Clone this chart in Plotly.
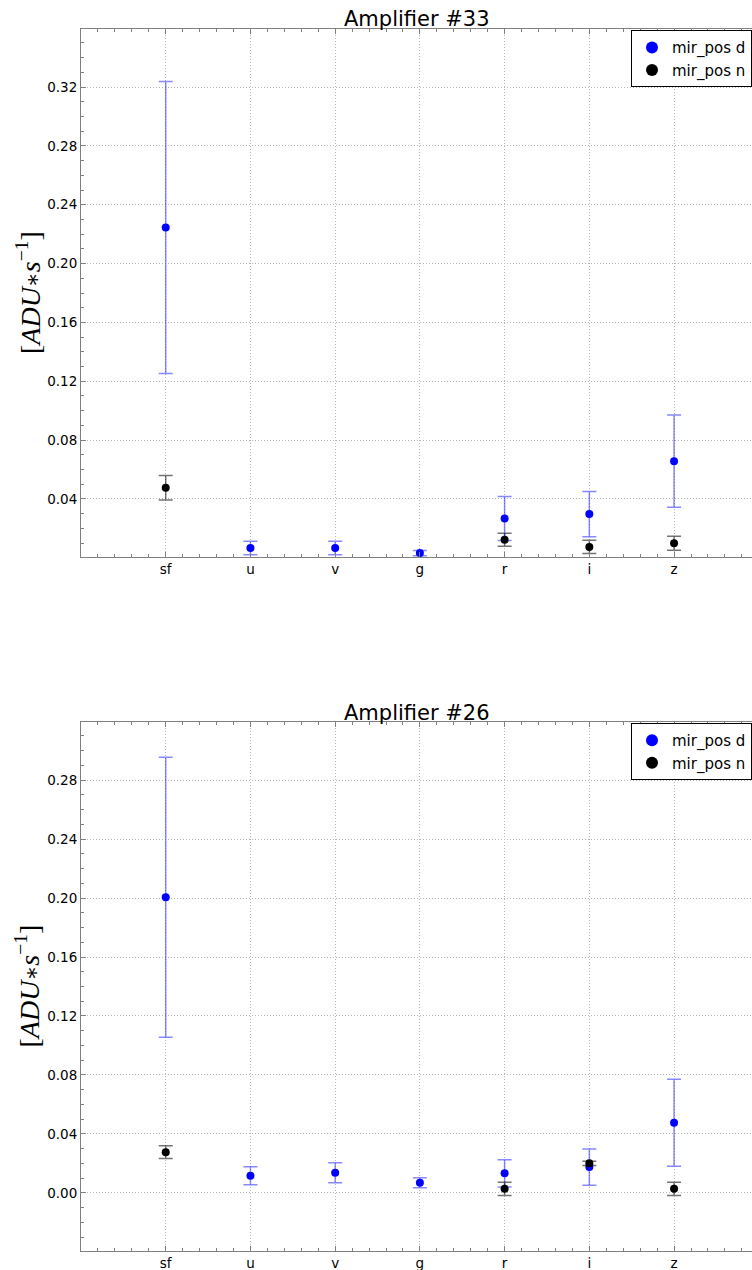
import plotly.graph_objects as go
from plotly.subplots import make_subplots

# ── data ──────────────────────────────────────────────
bands = ["sf", "u", "v", "g", "r", "i", "z"]
x_pos = list(range(len(bands)))

# Amplifier #33
amp33_d = [0.2245, 0.0067, 0.0067, 0.0032, 0.0267, 0.0297, 0.0657]
amp33_d_err = [0.0993, 0.0046, 0.0046, 0.0018, 0.0150, 0.0154, 0.0313]
amp33_n = [0.0476, None, None, None, 0.0122, 0.0074, 0.0099]
amp33_n_err = [0.0083, None, None, None, 0.0044, 0.0045, 0.0048]

# Amplifier #26
amp26_d = [0.2006, 0.0115, 0.0136, 0.0068, 0.0132, 0.0175, 0.0475]
amp26_d_err = [0.0950, 0.0061, 0.0068, 0.0034, 0.0093, 0.0123, 0.0295]
amp26_n = [0.0276, None, None, None, 0.0027, 0.0200, 0.0027]
amp26_n_err = [0.0044, None, None, None, 0.0045, 0.0014, 0.0045]

titles = ["Amplifier #33", "Amplifier #26"]
y_ranges = [[0.0005, 0.3595], [-0.0395, 0.3195]]

# ── figure ────────────────────────────────────────────
fig = make_subplots(rows=2, cols=1, vertical_spacing=0.1351,
                    subplot_titles=titles)
fig.update_layout(
    yaxis_domain=[0.5679, 1.0],
    yaxis2_domain=[0.0, 0.4329],
)

panels = [
    (amp33_d, amp33_d_err, amp33_n, amp33_n_err, "legend"),
    (amp26_d, amp26_d_err, amp26_n, amp26_n_err, "legend2"),
]
for row, (d, d_err, n, n_err, leg) in enumerate(panels, start=1):
    fig.add_trace(go.Scatter(
        x=x_pos, y=d, mode="markers", name="mir_pos d", legend=leg,
        marker=dict(color="#0000ff", size=8),
        error_y=dict(type="data", array=d_err, visible=True,
                     color="rgba(40,40,255,0.55)", thickness=1.5, width=7),
    ), row=row, col=1)
    fig.add_trace(go.Scatter(
        x=x_pos, y=n, mode="markers", name="mir_pos n", legend=leg,
        marker=dict(color="#000000", size=8),
        error_y=dict(type="data", array=n_err, visible=True,
                     color="rgba(0,0,0,0.55)", thickness=1.5, width=7),
    ), row=row, col=1)

tick_font = dict(family="DejaVu Sans", size=13.5, color="black")
axis_style = dict(
    showline=True, linecolor="#808080", linewidth=1,
    showgrid=True, gridcolor="#b8b8b8", griddash="1px,2px", gridwidth=1,
    ticks="inside", ticklen=5, tickcolor="#808080",
    tickfont=tick_font, zeroline=False, automargin=False,
)

for row, yr in enumerate(y_ranges, start=1):
    fig.update_xaxes(
        range=[-1, 6.92], tickvals=x_pos, ticktext=bands, mirror="allticks",
        minor=dict(dtick=0.2, tick0=0, ticks="inside", ticklen=3,
                   tickcolor="#808080", showgrid=False),
        row=row, col=1, **axis_style,
    )
    fig.update_yaxes(
        range=yr, dtick=0.04, tick0=0, tickformat=".2f",
        minor=dict(dtick=0.01, tick0=0, ticks="inside", ticklen=3,
                   tickcolor="#808080", showgrid=False),
        row=row, col=1, **axis_style,
    )

# y labels as annotations (no MathJax offline)
ylabel = "[<i>ADU</i><span style='font-family:DejaVu Serif;font-size:22px'>∗</span><i>s</i><sup>−1</sup>]"
for yc in [(0.5679 + 1.0) / 2, 0.4329 / 2]:
    fig.add_annotation(
        text=ylabel, xref="paper", yref="paper", x=0, y=yc,
        xanchor="center", yanchor="middle", xshift=-53,
        textangle=-90, showarrow=False,
        font=dict(family="Liberation Serif", size=28, color="black"),
    )

for ann in fig.layout.annotations[:2]:
    ann.font = dict(family="DejaVu Sans", size=21, color="black")
    ann.yshift = -4

legend_style = dict(
    xref="paper", yref="paper", x=1.0, xanchor="right", yanchor="top",
    bordercolor="black", borderwidth=1, bgcolor="white",
    font=dict(family="DejaVu Sans", size=15, color="black"),
    itemsizing="constant",
)
fig.update_layout(
    width=752, height=1270,
    margin=dict(l=81, r=0, t=29, b=19),
    paper_bgcolor="white", plot_bgcolor="white",
    showlegend=True,
    legend=dict(y=0.999, **legend_style),
    legend2=dict(y=0.4320, **legend_style),
)

# drop the default 8px page margin so the 752x1270 figure fills the window
fig.write_html(
    "out.html",
    config={"displayModeBar": False},
    post_script="document.body.style.margin='0';document.body.style.overflow='hidden';",
)
